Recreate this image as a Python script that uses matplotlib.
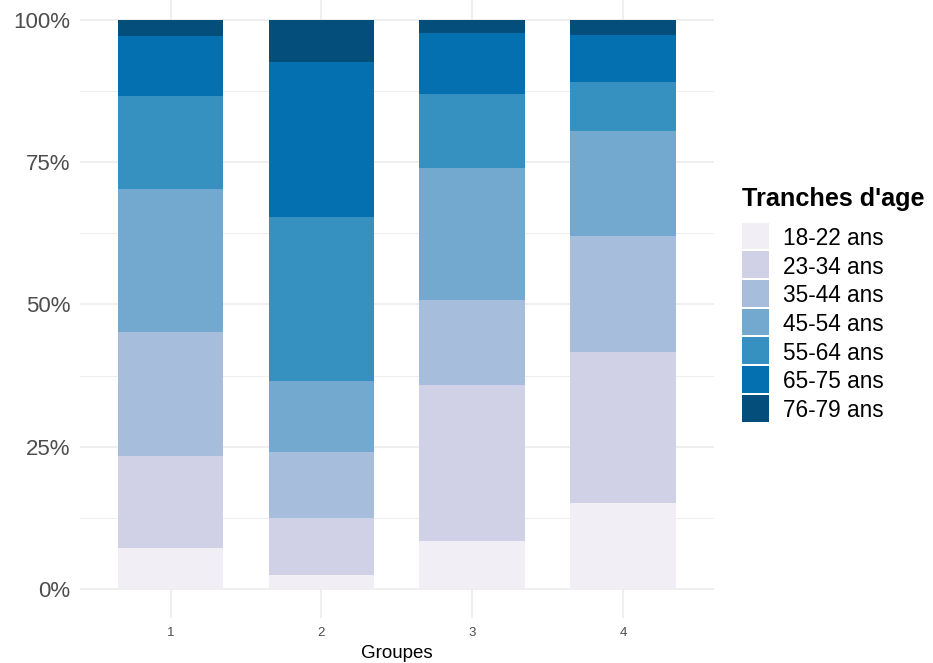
import matplotlib.pyplot as plt
import numpy as np
from matplotlib.patches import Rectangle
from matplotlib.ticker import FixedLocator, PercentFormatter

plt.rcParams['font.family'] = ['Liberation Sans', 'DejaVu Sans']

groupes = ['1', '2', '3', '4']
tranches = ['18-22 ans', '23-34 ans', '35-44 ans', '45-54 ans',
            '55-64 ans', '65-75 ans', '76-79 ans']
couleurs = ['#f1eef6', '#d0d1e6', '#a6bddb', '#74a9cf',
            '#3690c0', '#0570b0', '#034e7b']

# share of each age band per group (%), bottom to top
parts = {
    '18-22 ans': [7.2, 2.5, 8.4, 15.2],
    '23-34 ans': [16.2, 9.9, 27.5, 26.4],
    '35-44 ans': [21.7, 11.7, 14.9, 20.5],
    '45-54 ans': [25.2, 12.5, 23.2, 18.3],
    '55-64 ans': [16.3, 28.7, 13.0, 8.7],
    '65-75 ans': [10.6, 27.3, 10.7, 8.3],
    '76-79 ans': [2.8, 7.4, 2.3, 2.6],
}

W, H = 933, 663
fig = plt.figure(figsize=(W / 100, H / 100), dpi=100)
ax = fig.add_axes([80 / W, 45.5 / H, 633.6 / W, 617.5 / H])

x = np.arange(1, len(groupes) + 1)
totals = np.sum([parts[t] for t in tranches], axis=0)
bottom = np.zeros(len(groupes))
for t, c in zip(tranches, couleurs):
    vals = np.array(parts[t]) / totals
    ax.bar(x, vals, width=0.7, bottom=bottom, color=c, linewidth=0, zorder=2)
    bottom += vals

ax.set_xlim(0.4, 4.6)
ax.set_ylim(-0.05, 1.035)
ax.set_xticks(x)
ax.set_xticklabels(groupes)
ax.set_yticks([0, 0.25, 0.5, 0.75, 1.0])
ax.yaxis.set_major_formatter(PercentFormatter(1.0, decimals=0))
ax.yaxis.set_minor_locator(FixedLocator([0.125, 0.375, 0.625, 0.875]))

ax.grid(which='major', color='#ebebeb', linewidth=1.1, zorder=0)
ax.grid(which='minor', axis='y', color='#ebebeb', linewidth=0.6, zorder=0)
ax.set_axisbelow(True)
for s in ax.spines.values():
    s.set_visible(False)
ax.tick_params(axis='both', which='both', length=0)
ax.tick_params(axis='y', labelsize=16, colors='#4d4d4d', pad=7)
ax.tick_params(axis='x', labelsize=9.5, colors='#4d4d4d', pad=7)
ax.set_xlabel('Groupes', fontsize=13.5, labelpad=4)

# legend drawn by hand (pixel layout of the original)
fig.text(742 / W, 1 - 206 / H, "Tranches d'age", fontsize=18.2,
         fontweight='bold', va='baseline', ha='left')
for i, (t, c) in enumerate(zip(tranches, couleurs)):
    top = 222.7 + i * 28.7
    fig.patches.append(Rectangle((742 / W, 1 - (top + 26.7) / H), 27 / W, 26.7 / H,
                                 transform=fig.transFigure, facecolor=c,
                                 edgecolor='none'))
    fig.text(783 / W, 1 - (top + 22.3) / H, t, fontsize=16.3,
             va='baseline', ha='left')

fig.savefig('out.png', dpi=100)
